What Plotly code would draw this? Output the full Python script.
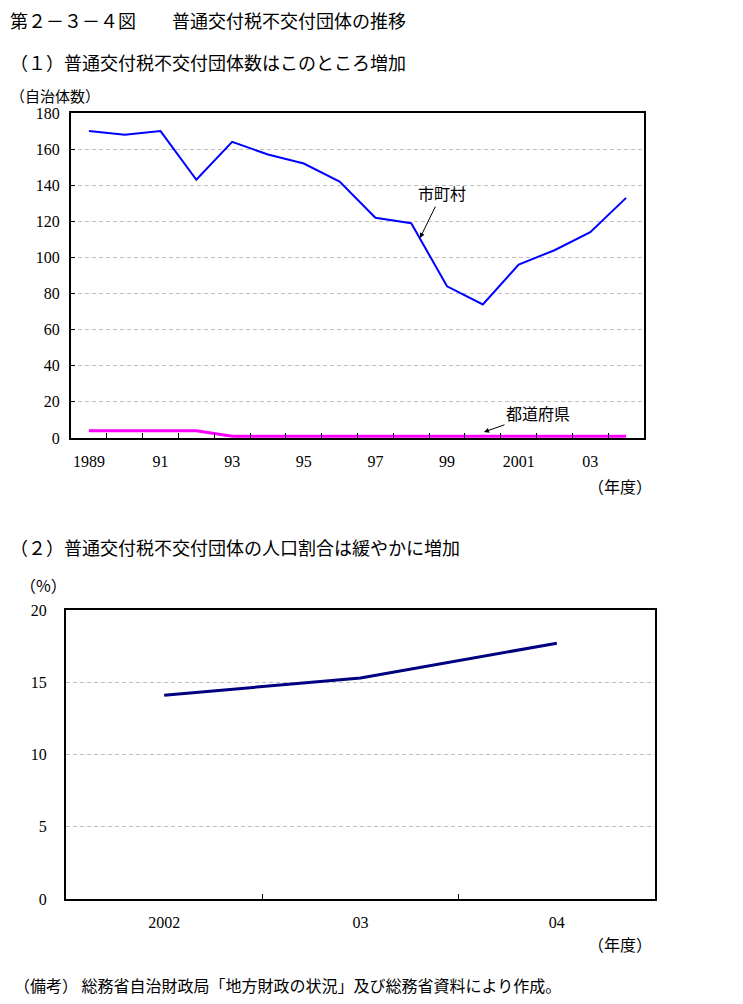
import plotly.graph_objects as go

# page body has an 8px margin, so the figure is a bit smaller than the window
OFF = 8
W, H = 743 - 2 * OFF, 1004 - 2 * OFF

# (1) counts of non-grant bodies, fiscal years 1989-2004
years = [str(y) for y in range(1989, 2005)]
year_labels = ["1989", "", "91", "", "93", "", "95", "", "97", "", "99", "", "2001", "", "03", ""]
municipalities = [170, 168, 170, 143, 164, 157, 152, 142, 122, 119, 84, 74, 96, 104, 114, 133]
prefectures = [4, 4, 4, 4, 1, 1, 1, 1, 1, 1, 1, 1, 1, 1, 1, 1]

# (2) population share (%) of non-grant bodies
share_years = ["2002", "2003", "2004"]
share_labels = ["2002", "03", "04"]
pop_share = [14.1, 15.3, 17.7]

JP = "Noto Sans CJK JP"
NUM = "Liberation Serif"


def px(x):
    return (x - OFF) / W


def py(y):
    return 1 - (y - OFF) / H


fig = go.Figure()

fig.add_trace(go.Scatter(x=years, y=municipalities, mode="lines",
                         line=dict(color="#0000ff", width=2),
                         xaxis="x", yaxis="y", showlegend=False))
fig.add_trace(go.Scatter(x=years, y=prefectures, mode="lines",
                         line=dict(color="#ff00ff", width=3),
                         xaxis="x", yaxis="y", showlegend=False))
fig.add_trace(go.Scatter(x=share_years, y=pop_share, mode="lines",
                         line=dict(color="#000080", width=3),
                         xaxis="x2", yaxis="y2", showlegend=False))

frame = dict(showline=True, linecolor="black", linewidth=2, mirror=True,
             zeroline=False, automargin=False,
             tickfont=dict(family=NUM, size=16, color="black"))
grid = dict(showgrid=True, gridcolor="#c0c0c0", gridwidth=1, griddash="4px,3px")

fig.update_layout(
    width=W, height=H, autosize=False,
    margin=dict(l=0, r=0, t=0, b=0, pad=0, autoexpand=False),
    paper_bgcolor="white", plot_bgcolor="white",
    xaxis=dict(domain=[px(71), px(644)], anchor="y", type="category",
               range=[-0.5, len(years) - 0.5],
               tickvals=years, ticktext=year_labels, tickson="boundaries",
               tickangle=0, ticks="inside", ticklen=5, tickcolor="black",
               ticklabelstandoff=8, showgrid=False, **frame),
    yaxis=dict(domain=[py(438), py(113)], anchor="x", range=[0, 180],
               tickvals=list(range(0, 181, 20)), ticks="inside", ticklen=4,
               tickcolor="black", ticklabelstandoff=6, **grid, **frame),
    xaxis2=dict(domain=[px(66), px(655)], anchor="y2", type="category",
                range=[-0.5, len(share_years) - 0.5],
                tickvals=share_years, ticktext=share_labels, tickson="boundaries",
                tickangle=0, ticks="inside", ticklen=5, tickcolor="black",
                ticklabelstandoff=8, showgrid=False, **frame),
    yaxis2=dict(domain=[py(899), py(610)], anchor="x2", range=[0, 20],
                tickvals=[0, 5, 10, 15, 20], ticks="", ticklabelstandoff=14,
                **grid, **frame),
)

texts = [
    (8, 20, "第２－３－４図　　普通交付税不交付団体の推移", 18),
    (8, 62, "（１）普通交付税不交付団体数はこのところ増加", 18),
    (8, 96, "（自治体数）", 15),
    (8, 547, "（２）普通交付税不交付団体の人口割合は緩やかに増加", 18),
    (18, 585, "（%）", 16),
    (12, 985, "（備考） 総務省自治財政局「地方財政の状況」及び総務省資料により作成。", 16),
]
for x, y, t, s in texts:
    fig.add_annotation(x=px(x), y=py(y), xref="paper", yref="paper", text=t,
                       showarrow=False, xanchor="left", yanchor="middle",
                       font=dict(family=JP, size=s, color="black"))

for y in (486, 944):
    fig.add_annotation(x=px(654), y=py(y), xref="paper", yref="paper", text="（年度）",
                       showarrow=False, xanchor="right", yanchor="middle",
                       font=dict(family=JP, size=16, color="black"))

# series labels, each with a pointer arrow from the label to its line
fig.add_annotation(x=px(420), y=py(238), xref="paper", yref="paper", text="市町村",
                   showarrow=True, ax=22, ay=-45, arrowhead=2, arrowsize=1,
                   arrowwidth=1, arrowcolor="black",
                   font=dict(family=JP, size=16, color="black"))
fig.add_annotation(x=px(484), y=py(432), xref="paper", yref="paper", text="都道府県",
                   showarrow=True, ax=54, ay=-19, arrowhead=2, arrowsize=1,
                   arrowwidth=1, arrowcolor="black",
                   font=dict(family=JP, size=16, color="black"))

fig.write_html("out.html")
